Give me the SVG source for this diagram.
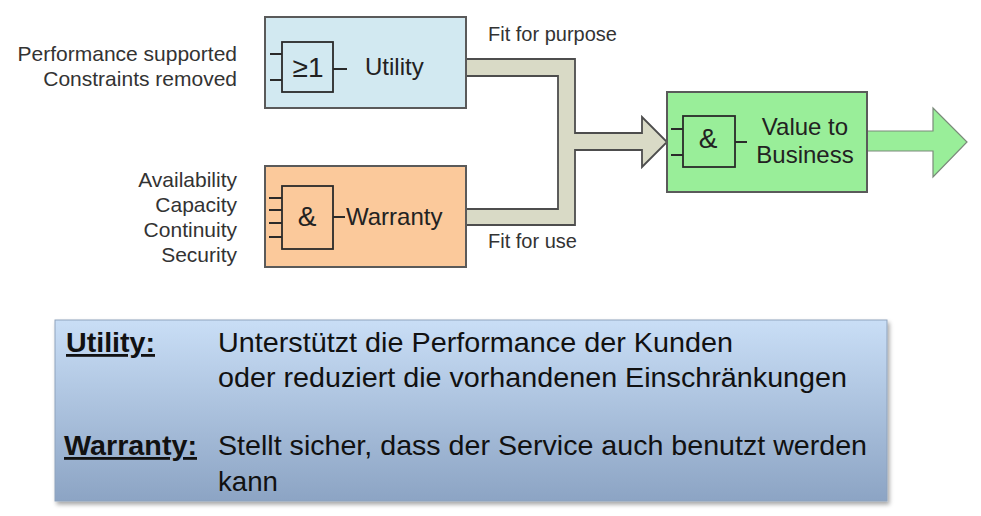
<svg xmlns="http://www.w3.org/2000/svg" width="981" height="516" viewBox="0 0 981 516">
<style>
text{font-family:"Liberation Sans",Arial,sans-serif;fill:#222}
.in{font-size:21px;fill:#333;text-anchor:end}
.fit{font-size:20px;fill:#333}
.box{stroke:#5a5a5a;stroke-width:2}
.gate{fill:none;stroke:#2a2a2a;stroke-width:1.8}
.pin{stroke:#2a2a2a;stroke-width:1.8;fill:none}
.lbl{font-size:24px}
.sym{font-size:28px;text-anchor:middle}
.leg{font-size:28px;fill:#111}
.legb{font-size:28px;fill:#111;font-weight:bold;text-decoration:underline}
</style>
<defs>
<linearGradient id="lg" x1="0" y1="0" x2="0" y2="1">
<stop offset="0" stop-color="#c9def6"/>
<stop offset="1" stop-color="#8ca4c4"/>
</linearGradient>
<filter id="sh" x="-5%" y="-10%" width="110%" height="125%">
<feDropShadow dx="2" dy="3" stdDeviation="2" flood-color="#000" flood-opacity="0.35"/>
</filter>
</defs>
<rect width="981" height="516" fill="#fff"/>

<g id="input-labels">
<text class="in" x="237" y="61">Performance supported</text>
<text class="in" x="237" y="86">Constraints removed</text>
<text class="in" x="237" y="187">Availability</text>
<text class="in" x="237" y="212">Capacity</text>
<text class="in" x="237" y="237">Continuity</text>
<text class="in" x="237" y="262">Security</text>
</g>

<g id="connectors">
<path d="M466,59 H575 V133 H642 V117 L667,142 L642,167 V150 H575 V225 H466 V209 H558 V76 H466 Z" fill="#d9dac6" stroke="#4d4d4d" stroke-width="1.8" stroke-linejoin="miter"/>
<path d="M867,131 H933 V108 L967,142 L933,177 V151 H867 Z" fill="#99ee99" stroke="#7a8a7a" stroke-width="1.2"/>
<text class="fit" x="488" y="41">Fit for purpose</text>
<text class="fit" x="488" y="248">Fit for use</text>
</g>

<g id="node-utility">
<rect class="box" x="265" y="17" width="201" height="91" fill="#d2e9f1"/>
<rect class="gate" x="282" y="42" width="51" height="50"/>
<path class="pin" d="M270,54 H282 M270,80 H282 M333,69 H347"/>
<text class="sym" x="308" y="77" font-size="30">≥1</text>
<text class="lbl" x="365" y="75">Utility</text>
</g>

<g id="node-warranty">
<rect class="box" x="265" y="166" width="201" height="101" fill="#fbc99b"/>
<rect class="gate" x="282" y="186" width="51" height="63"/>
<path class="pin" d="M269,198 H282 M269,210 H282 M269,223 H282 M269,237 H282 M333,217 H345"/>
<text class="sym" x="307" y="226">&amp;</text>
<text class="lbl" x="346" y="225">Warranty</text>
</g>

<g id="node-value">
<rect class="box" x="667" y="92" width="200" height="100" fill="#99ee99"/>
<rect class="gate" x="683" y="116" width="52" height="51"/>
<path class="pin" d="M671,129 H683 M671,155 H683 M735,142 H747"/>
<text class="sym" x="708" y="148">&amp;</text>
<text class="lbl" x="805" y="135" text-anchor="middle">Value to</text>
<text class="lbl" x="805" y="163" text-anchor="middle">Business</text>
</g>

<g id="legend">
<rect x="55" y="320" width="832" height="181" fill="url(#lg)" stroke="#8fa3bd" stroke-width="1" filter="url(#sh)"/>
<text class="legb" x="66" y="352" textLength="89" lengthAdjust="spacingAndGlyphs">Utility:</text>
<text class="leg" x="218" y="352" textLength="515" lengthAdjust="spacingAndGlyphs">Unterstützt die Performance der Kunden</text>
<text class="leg" x="218" y="387" textLength="629" lengthAdjust="spacingAndGlyphs">oder reduziert die vorhandenen Einschränkungen</text>
<text class="legb" x="64" y="455" textLength="133" lengthAdjust="spacingAndGlyphs">Warranty:</text>
<text class="leg" x="218" y="455" textLength="649" lengthAdjust="spacingAndGlyphs">Stellt sicher, dass der Service auch benutzt werden</text>
<text class="leg" x="218" y="491" textLength="60" lengthAdjust="spacingAndGlyphs">kann</text>
</g>
</svg>
